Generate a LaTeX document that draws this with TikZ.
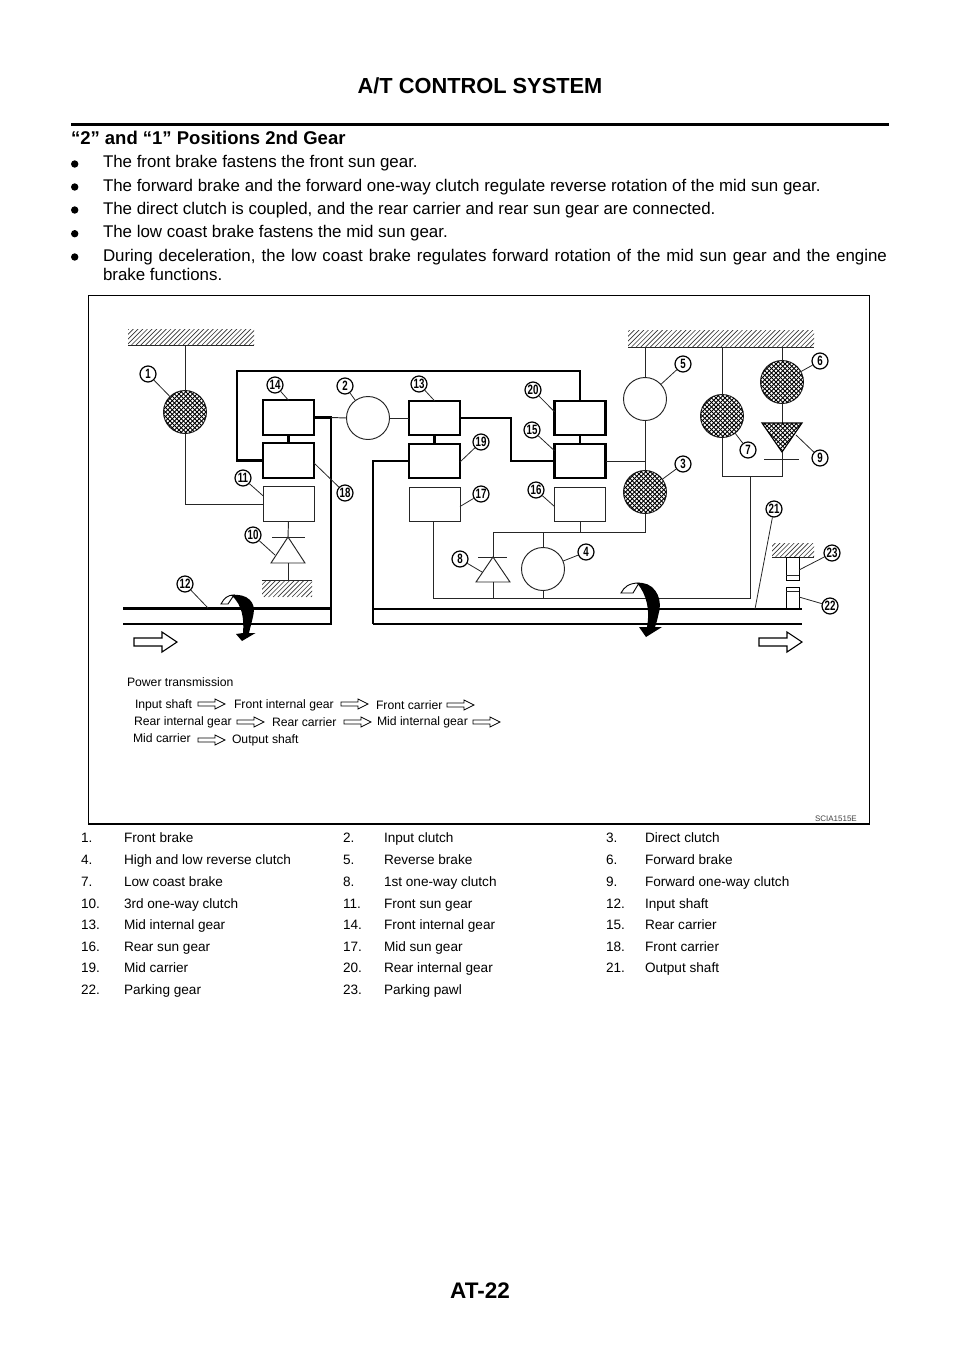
\documentclass[tikz,border=0pt]{standalone}
\usepackage{fontspec}
\setmainfont{Liberation Sans}
\usetikzlibrary{calc}
\newcommand{\fs}[1]{\fontsize{#1}{#1}\selectfont}
\newcommand{\hatchbar}[4]{% x1 y1 x2 y2 : hatch above line at y2
  \begin{scope}
    \clip (#1,#2) rectangle (#3,#4);
    \foreach \hx in {0,4.7,...,240}{
      \draw[line width=.65pt,black!80] ({#1-20+\hx},#4) -- ++(20,-20);
    }
  \end{scope}
  \draw[thinl] (#1,#4) -- (#3,#4);
}
\newcommand{\meshlines}[3]{% cx cy radius
  \foreach \md in {-60,-55.5,...,60}{
    \draw[line width=.85pt] ({#1+\md-#3},{#2-#3}) -- ({#1+\md+#3},{#2+#3});
    \draw[line width=.85pt] ({#1+\md+#3},{#2-#3}) -- ({#1+\md-#3},{#2+#3});
  }
}
\newcommand{\meshdisc}[2]{%
  \begin{scope}
    \clip (#1,#2) circle (21.5);
    \meshlines{#1}{#2}{24}
  \end{scope}
}
\newcommand{\badge}[4]{\node[badgenode] (#1) at (#2,#3) {\scalebox{0.72}[1]{#4}};}
\newcommand{\blockarrow}[2]{% tip x, y : large open arrow
  \draw[line width=1.1pt,fill=white,line join=miter] (#1,#2) -- ++(-15,-10) -- ++(0,6) -- ++(-28,0) -- ++(0,8) -- ++(28,0) -- ++(0,6) -- cycle;
}
\newcommand{\smallarrow}[2]{% tip x, y : small open arrow
  \draw[line width=.7pt,fill=white] (#1,#2) -- ++(-10,-5) -- ++(0,3) -- ++(-17,0) -- ++(0,4) -- ++(17,0) -- ++(0,3) -- cycle;
}
\newcommand{\tl}[5]{\node[textl,font=\fs{#1}] (#2) at (#3,#4) {#5};}
\newcommand{\bl}[4]{\fill (74.7,#2) circle (3.7);\node[textl,font=\fs{16.9}] (#1) at (103,#3) {#4};}
\newcommand{\rowitem}[6]{% name xnum xtext y num text
  \node[textl,font=\fs{13.6}] (#1n) at (#2,#4) {#5};
  \node[textl,font=\fs{13.6}] (#1t) at (#3,#4) {#6};
}
\newcommand{\diagl}[4]{\node[textl,font=\fs{12.2}] (#1) at (#2,#3) {#4};}
\tikzset{
  thinl/.style={line width=.95pt,black!85},
  thickl/.style={line width=2.1pt,line join=miter},
  shaftl/.style={line width=2.4pt,line join=miter},
  leader/.style={line width=.8pt,black!85},
  thickbox/.style={draw,line width=2.1pt,minimum width=51pt,minimum height=34.5pt,inner sep=0pt,outer sep=0pt,fill=white},
  thinbox/.style={draw,line width=1pt,black!85,minimum width=51pt,minimum height=34.5pt,inner sep=0pt,outer sep=0pt,fill=white},
  gear/.style={circle,draw,line width=.95pt,black!85,minimum size=43pt,inner sep=0pt,outer sep=0pt},
  badgenode/.style={circle,draw,line width=1.2pt,fill=white,minimum size=16pt,inner sep=0pt,font=\fs{13.5}\bfseries},
  textl/.style={anchor=base west,inner sep=0pt,outer sep=0pt},
}
\begin{document}
\begin{tikzpicture}[x=1pt,y=-1pt]
\useasboundingbox (0,0) rectangle (960,1358);
% page header
\node[font=\fs{21.8}\bfseries,anchor=base,inner sep=0pt] (head) at (480,93) {A/T CONTROL SYSTEM};
\draw[line width=2.6pt] (71,124.5) -- (889,124.5);
\tl{18.5}{subhead}{71}{144}{\textbf{“2” and “1” Positions 2nd Gear}}
\bl{b1}{164}{167.5}{The front brake fastens the front sun gear.}
\bl{b2}{187}{191}{The forward brake and the forward one-way clutch regulate reverse rotation of the mid sun gear.}
\bl{b3}{210}{214}{The direct clutch is coupled, and the rear carrier and rear sun gear are connected.}
\bl{b4}{233.7}{237.7}{The low coast brake fastens the mid sun gear.}
\bl{b5}{257}{261}{\makebox[784pt][s]{During deceleration, the low coast brake regulates forward rotation of the mid sun gear and the engine}}
\tl{16.9}{b5b}{103}{280}{brake functions.}
% frame
\draw[line width=1.1pt] (88.5,295.5) rectangle (869.5,824);
% grounds
\hatchbar{128}{329}{254}{345}
\hatchbar{628}{330}{814}{347}
\coordinate (g1) at (185,345);
\coordinate (g5) at (645,347);
\coordinate (g7) at (722,347);
\coordinate (g6) at (782,347);
% thick frame behind boxes
\node[thickbox] (b14) at (288.5,417.5) {};
\node[thickbox] (b18) at (288.5,460.5) {};
\node[thinbox] (b11) at (288.5,504) {};
\node[thickbox] (b13) at (434.5,418) {};
\node[thickbox] (b19) at (434.5,461) {};
\node[thinbox] (b17) at (434.5,504.5) {};
\node[thickbox] (b20) at (580,418) {};
\node[thickbox] (b15) at (580,461) {};
\node[thinbox] (b16) at (580,504.5) {};
\node[gear] (c1) at (185,412) {};
\node[gear] (c2) at (368,418) {};
\node[gear] (c3) at (645,492) {};
\node[gear] (c4) at (543,569) {};
\node[gear] (c5) at (645,399) {};
\node[gear] (c6) at (782,382) {};
\node[gear] (c7) at (722,416) {};
\meshdisc{185}{412}
\meshdisc{645}{492}
\meshdisc{782}{382}
\meshdisc{722}{416}
% shafts and coordinates
\coordinate (inL) at (123,608.5);
\coordinate (inLb) at (123,624);
\coordinate (inR) at (331,608.5);
\coordinate (inRb) at (331,624);
\coordinate (outT) at (373,609);
\coordinate (outB) at (373,624);
\coordinate (outTe) at (802,609);
\coordinate (outBe) at (802,624);
\draw[shaftl] (inL) -- (inR);
\draw[shaftl] (inLb) -- (inRb);
\draw[shaftl] (outT) -- (outTe);
\draw[shaftl] (outB) -- (outBe);
% thick links
\draw[thickl] (b14.south) -- (b18.north);
\draw[thickl] (b13.south) -- (b19.north);
\draw[thickl] (b20.south) -- (b15.north);
\coordinate (tl1) at (237,371);
\draw[thickl] (b18.west) -| (tl1) -| (b20.north);
\coordinate (vA) at (331,417.5);
\draw[thickl] (b14.east) -- (vA) -- (inRb) -- (inLb);
\draw[thinl] (vA) -- (c2.west);
\draw[thinl] (c2.east) -- (b13.west);
\coordinate (vB) at (373,461);
\draw[thickl] (b19.west) -- (vB) -- (outB);
\coordinate (zz) at (511,418);
\draw[thickl] (b13.east) -- (zz) |- (b15.west);
% thin links
\draw[thinl] (g1) -- (c1.north);
\coordinate (h11) at (185,504);
\draw[thinl] (c1.south) -- (h11) -- (b11.west);
\draw[thinl] (g5) -- (c5.north);
\draw[thinl] (c5.south) -- (c3.north);
\draw[thinl] (b15.east) -- (645,461);
\draw[thinl] (g7) -- (c7.north);
\draw[thinl] (g6) -- (c6.north);
% diode 9
\coordinate (t9a) at (762,423);
\coordinate (t9b) at (802,423);
\coordinate (t9c) at (782,452);
\draw[thinl] (c6.south) -- (782,423);
\begin{scope}
  \clip (t9a) -- (t9b) -- (t9c) -- cycle;
  \meshlines{782}{435}{32}
\end{scope}
\draw[line width=1.1pt] (t9a) -- (t9b) -- (t9c) -- cycle;
\coordinate (bar9a) at (764,459);
\coordinate (bar9b) at (799,459);
\draw[thinl] (bar9a) -- (bar9b);
\coordinate (j1) at (722,476);
\coordinate (j2) at (782,476);
\coordinate (j3) at (750,476);
\draw[thinl] (c7.south) -- (j1) -- (j2) -- (t9c);
% lower bus
\coordinate (bL) at (493,532);
\coordinate (bR) at (645,532);
\coordinate (b580) at (580,532);
\coordinate (b543) at (543,532);
\draw[thinl] (bL) -- (bR) -- (c3.south);
\draw[thinl] (b16.south) -- (b580);
\draw[thinl] (b543) -- (c4.north);
\coordinate (lL) at (433,598);
\coordinate (lR) at (750,598);
\coordinate (l493) at (493,598);
\coordinate (l543) at (543,598);
\draw[thinl] (433,522) -- (lL) -- (lR) -- (j3);
\draw[thinl] (c4.south) -- (l543);
% diode 8
\coordinate (d8t) at (493,557);
\coordinate (d8l) at (476,582);
\coordinate (d8r) at (510,582);
\coordinate (d8m) at (493,582);
\draw[thinl] (bL) -- (d8t);
\draw[thinl] (478,557) -- (507,557);
\draw[thinl] (d8t) -- (d8l) -- (d8r) -- cycle;
\draw[thinl] (d8m) -- (l493);
% diode 10
\coordinate (d10t) at (288,537);
\coordinate (d10l) at (271,563);
\coordinate (d10r) at (305,563);
\coordinate (d10m) at (288,563);
\coordinate (d10g) at (288,580);
\draw[thinl] (b11.south) -- (d10t);
\draw[thinl] (272,537) -- (305,537);
\draw[thinl] (d10t) -- (d10l) -- (d10r) -- cycle;
\draw[thinl] (d10m) -- (d10g);
\begin{scope}
  \clip (262,580) rectangle (312,597);
  \foreach \hx in {0,4.7,...,90}{\draw[line width=.65pt,black!80] ({245+\hx},597) -- ++(17,-17);}
\end{scope}
\draw[thinl] (262,580) -- (312,580);
% parking
\hatchbar{772}{543}{814}{557}
\node[draw,line width=.95pt,minimum width=13pt,minimum height=23pt,inner sep=0,outer sep=0] (pawl) at (792.5,568.5) {};
\draw[thinl] (pawl.south west) ++(0,-5) -- ++(13,0);
\node[draw,line width=.95pt,minimum width=13pt,minimum height=22pt,inner sep=0,outer sep=0] (pgear) at (792.5,598) {};
\draw[thinl] (pgear.north west) ++(0,4) -- ++(13,0);
% rotation symbols
\filldraw[fill=white,line width=.9pt] (221,604) .. controls (224,598) and (228,595) .. (234,595) -- (228,604) -- cycle;
\fill (231,595) .. controls (248,593) and (256,603) .. (253.5,614) .. controls (252,622) and (250,628) .. (249,633) -- (255.5,633) -- (242,641) -- (236,634) -- (243,633) .. controls (244,620) and (243,605) .. (231,595) -- cycle;
\filldraw[fill=white,line width=.9pt] (621,593) .. controls (624,587) and (629,583) .. (639,583) -- (633,593) -- cycle;
\fill (637,583) .. controls (653,581) and (662,596) .. (659.5,610) .. controls (658,616) and (657,622) .. (655,627) -- (662,627) -- (646,637) -- (639,627) -- (647,627) .. controls (650,610) and (647,595) .. (637,583) -- cycle;
% big arrows
\blockarrow{177}{642}
\blockarrow{802}{642}
% badges and leaders
\badge{n1}{148}{374}{1}
\badge{n2}{345}{386}{2}
\badge{n3}{683}{464}{3}
\badge{n4}{586}{552}{4}
\badge{n5}{683}{364}{5}
\badge{n6}{820}{361}{6}
\badge{n7}{748}{450}{7}
\badge{n8}{460}{559}{8}
\badge{n9}{820}{458}{9}
\badge{n10}{253}{535}{10}
\badge{n11}{243}{478}{11}
\badge{n12}{185}{584}{12}
\badge{n13}{419}{384}{13}
\badge{n14}{275}{385}{14}
\badge{n15}{532}{430}{15}
\badge{n16}{536}{490}{16}
\badge{n17}{481}{494}{17}
\badge{n18}{345}{493}{18}
\badge{n19}{481}{442}{19}
\badge{n20}{533}{390}{20}
\badge{n21}{774}{509}{21}
\badge{n22}{830}{606}{22}
\badge{n23}{832}{553}{23}
\draw[leader] (n1) -- (c1);
\draw[leader] (n2) -- (c2);
\draw[leader] (n3) -- (c3);
\draw[leader] (n4) -- (c4);
\draw[leader] (n5) -- (c5);
\draw[leader] (n6) -- (c6);
\draw[leader] (n7) -- (c7);
\coordinate (p8) at (482,572);
\draw[leader] (n8) -- (p8);
\coordinate (p9) at (796,435);
\draw[leader] (n9) -- (p9);
\coordinate (p10) at (275,555);
\draw[leader] (n10) -- (p10);
\draw[leader] (n11) -- ([yshift=-9pt]b11.north west);
\coordinate (p12) at (208,608);
\draw[leader] (n12) -- (p12);
\draw[leader] (n13) -- (b13.north);
\draw[leader] (n14) -- (b14.north);
\draw[leader] (n15) -- ([yshift=-7pt]b15.north west);
\draw[leader] (n16) -- ([yshift=-2pt]b16.west);
\draw[leader] (n17) -- ([yshift=-2pt]b17.east);
\draw[leader] (n18) -- ([yshift=-2.5pt]b18.east);
\draw[leader] (n19) -- ([yshift=-1pt]b19.east);
\draw[leader] (n20) -- ([yshift=-11pt]b20.north west);
\coordinate (p21) at (755,609);
\draw[leader] (n21) -- (p21);
\draw[leader] (n22) -- ([yshift=1pt]pgear.east);
\draw[leader] (n23) -- ([yshift=-1.5pt]pawl.east);
% power transmission
\diagl{pt}{127}{686}{Power transmission}
\diagl{pa1}{135}{708}{Input shaft}
\smallarrow{225}{704}
\diagl{pa2}{234}{708}{Front internal gear}
\smallarrow{368}{704}
\diagl{pa3}{376}{709}{Front carrier}
\smallarrow{474}{705}
\diagl{pb1}{134}{725}{Rear internal gear}
\smallarrow{264}{722}
\diagl{pb2}{272}{726}{Rear carrier}
\smallarrow{371}{722}
\diagl{pb3}{377}{725}{Mid internal gear}
\smallarrow{500}{722}
\diagl{pc1}{133}{742}{Mid carrier}
\smallarrow{225}{740}
\diagl{pc2}{232}{743}{Output shaft}
\node[textl,font=\fs{8},black!75] (code) at (815,821) {SCIA1515E};
% legend
\rowitem{a1}{81}{124}{842.5}{1.}{Front brake}
\rowitem{a2}{343}{384}{842.5}{2.}{Input clutch}
\rowitem{a3}{606}{645}{842.5}{3.}{Direct clutch}
\rowitem{a4}{81}{124}{864.5}{4.}{High and low reverse clutch}
\rowitem{a5}{343}{384}{864.5}{5.}{Reverse brake}
\rowitem{a6}{606}{645}{864.5}{6.}{Forward brake}
\rowitem{a7}{81}{124}{886.5}{7.}{Low coast brake}
\rowitem{a8}{343}{384}{886.5}{8.}{1st one-way clutch}
\rowitem{a9}{606}{645}{886.5}{9.}{Forward one-way clutch}
\rowitem{a10}{81}{124}{908}{10.}{3rd one-way clutch}
\rowitem{a11}{343}{384}{908}{11.}{Front sun gear}
\rowitem{a12}{606}{645}{908}{12.}{Input shaft}
\rowitem{a13}{81}{124}{929.5}{13.}{Mid internal gear}
\rowitem{a14}{343}{384}{929.5}{14.}{Front internal gear}
\rowitem{a15}{606}{645}{929.5}{15.}{Rear carrier}
\rowitem{a16}{81}{124}{951}{16.}{Rear sun gear}
\rowitem{a17}{343}{384}{951}{17.}{Mid sun gear}
\rowitem{a18}{606}{645}{951}{18.}{Front carrier}
\rowitem{a19}{81}{124}{972.5}{19.}{Mid carrier}
\rowitem{a20}{343}{384}{972.5}{20.}{Rear internal gear}
\rowitem{a21}{606}{645}{972.5}{21.}{Output shaft}
\rowitem{a22}{81}{124}{994.5}{22.}{Parking gear}
\rowitem{a23}{343}{384}{994.5}{23.}{Parking pawl}
% footer
\node[font=\fs{22.5}\bfseries,anchor=base,inner sep=0pt] (foot) at (480,1298) {AT-22};
\end{tikzpicture}
\end{document}
